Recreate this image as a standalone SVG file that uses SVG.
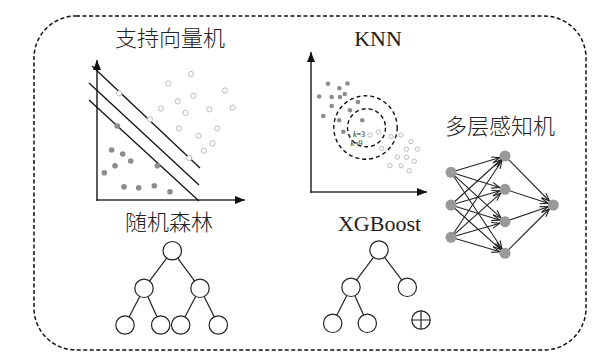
<svg xmlns="http://www.w3.org/2000/svg" width="612" height="362" viewBox="0 0 612 362">
<style>
.cjk{font-family:"Noto Sans CJK SC","Noto Sans",sans-serif;font-size:22px;font-weight:300;fill:#222;text-anchor:middle}
.ser{font-family:"Liberation Serif",serif;font-size:22px;fill:#222;text-anchor:middle}
.kl{font-family:"Liberation Serif",serif;font-size:8px;fill:#222}
.fd{fill:#8c8c8c}
.hd{fill:#fff;stroke:#b4b4b4;stroke-width:0.9}
.ax{stroke:#333;stroke-width:1.6;fill:none}
.tn{fill:#fff;stroke:#222;stroke-width:1.2}
.te{stroke:#222;stroke-width:1.2}
.nn{fill:#999}
.ar{stroke:#222;stroke-width:1.1;fill:none}
</style>
<defs>
<marker id="ah" markerUnits="userSpaceOnUse" markerWidth="12" markerHeight="10" refX="10" refY="4" orient="auto">
<path d="M0,0 L10,4 L0,8 z" fill="#111"/>
</marker>
<marker id="va" markerUnits="userSpaceOnUse" markerWidth="20" markerHeight="10" refX="14" refY="3.5" orient="auto">
<path d="M0.5,0.5 L8.5,3.5 L0.5,6.5" fill="none" stroke="#222" stroke-width="1.1"/>
</marker>
</defs>
<rect x="34" y="16" width="552" height="334" rx="42" ry="42" fill="none" stroke="#111" stroke-width="1.5" stroke-dasharray="4 2.5"/>

<g id="svm">
<text class="cjk" x="170" y="46">支持向量机</text>
<line class="ax" x1="97" y1="201" x2="97" y2="60" stroke="#555" marker-end="url(#ah)"/>
<line class="ax" x1="96" y1="200" x2="245" y2="200" stroke="#555" marker-end="url(#ah)"/>
<line x1="92" y1="66" x2="200" y2="168" stroke="#111" stroke-width="1.3"/>
<line x1="89" y1="83" x2="199" y2="185" stroke="#111" stroke-width="1.3"/>
<line x1="89" y1="100" x2="199" y2="201" stroke="#111" stroke-width="1.3"/>
<g class="hd">
<circle cx="191" cy="74" r="2.6"/><circle cx="168.3" cy="83.5" r="2.6"/><circle cx="119" cy="93.3" r="2.6"/><circle cx="193.3" cy="95.7" r="2.6"/><circle cx="225" cy="90.5" r="2.6"/><circle cx="177.7" cy="101.3" r="2.6"/><circle cx="161" cy="108.5" r="2.6"/><circle cx="185.5" cy="113" r="2.6"/><circle cx="209.3" cy="109.3" r="2.6"/><circle cx="232.7" cy="107.7" r="2.6"/><circle cx="150" cy="119.3" r="2.6"/><circle cx="179" cy="128.5" r="2.6"/><circle cx="217.2" cy="128.5" r="2.6"/><circle cx="198.5" cy="135.7" r="2.6"/><circle cx="212.5" cy="143.2" r="2.6"/><circle cx="203.8" cy="150.7" r="2.6"/><circle cx="189.2" cy="158" r="2.6"/>
</g>
<g class="fd">
<circle cx="117.3" cy="126" r="2.8"/><circle cx="111.7" cy="150" r="2.8"/><circle cx="122.7" cy="154" r="2.8"/><circle cx="130.7" cy="161" r="2.8"/><circle cx="115" cy="165.7" r="2.8"/><circle cx="104.3" cy="172.7" r="2.8"/><circle cx="157.3" cy="165.7" r="2.8"/><circle cx="124" cy="186.7" r="2.8"/><circle cx="138.7" cy="187.7" r="2.8"/><circle cx="154.3" cy="185.7" r="2.8"/><circle cx="170" cy="191.7" r="2.8"/>
</g>
</g>

<g id="knn">
<text class="ser" x="378" y="46">KNN</text>
<line class="ax" x1="311" y1="193" x2="311" y2="52" stroke="#111" marker-end="url(#ah)"/>
<line class="ax" x1="310" y1="192" x2="427" y2="192" stroke="#111" marker-end="url(#ah)"/>
<g class="fd">
<circle cx="328" cy="83.7" r="2.3"/><circle cx="347.5" cy="83.5" r="2.3"/><circle cx="339.3" cy="88.3" r="2.3"/><circle cx="319.2" cy="96.5" r="2.3"/><circle cx="331.7" cy="97" r="2.3"/><circle cx="340" cy="97" r="2.3"/><circle cx="344.8" cy="94" r="2.3"/><circle cx="331.7" cy="106" r="2.3"/><circle cx="358" cy="102" r="2.3"/><circle cx="350" cy="110.3" r="2.3"/><circle cx="323.3" cy="116" r="2.3"/><circle cx="339.2" cy="120.3" r="2.3"/><circle cx="362.2" cy="120.3" r="2.3"/><circle cx="343.3" cy="131.7" r="2.3"/>
</g>
<g class="hd">
<circle cx="370" cy="135" r="2.2"/><circle cx="378.3" cy="132" r="2.2"/><circle cx="391" cy="136.5" r="2.2"/><circle cx="401" cy="135" r="2.2"/><circle cx="411" cy="141.5" r="2.2"/><circle cx="381.7" cy="148.5" r="2.2"/><circle cx="406.3" cy="149.2" r="2.2"/><circle cx="417.3" cy="149.2" r="2.2"/><circle cx="397.3" cy="157" r="2.2"/><circle cx="406.5" cy="157.2" r="2.2"/><circle cx="414.2" cy="161.2" r="2.2"/><circle cx="390" cy="165.7" r="2.2"/><circle cx="401" cy="165.7" r="2.2"/><circle cx="409.3" cy="170.7" r="2.2"/>
</g>
<circle cx="365.5" cy="127.5" r="31.7" fill="none" stroke="#111" stroke-width="1.4" stroke-dasharray="4 3"/>
<circle cx="366.5" cy="127.8" r="19" fill="none" stroke="#111" stroke-width="1.4" stroke-dasharray="4 3"/>
<text class="kl" x="353" y="136.5"><tspan font-style="italic">k</tspan>=3</text>
<text class="kl" x="350.5" y="145.5"><tspan font-style="italic">k</tspan>=9</text>
</g>

<g id="mlp">
<text class="cjk" x="500" y="134">多层感知机</text>
<g id="connectors">
<line class="ar" x1="451" y1="172.3" x2="505" y2="156" marker-end="url(#va)"/>
<line class="ar" x1="451" y1="172.3" x2="505" y2="189.3" marker-end="url(#va)"/>
<line class="ar" x1="451" y1="172.3" x2="505" y2="221.7" marker-end="url(#va)"/>
<line class="ar" x1="451" y1="172.3" x2="505" y2="253.3" marker-end="url(#va)"/>
<line class="ar" x1="451" y1="205" x2="505" y2="156" marker-end="url(#va)"/>
<line class="ar" x1="451" y1="205" x2="505" y2="189.3" marker-end="url(#va)"/>
<line class="ar" x1="451" y1="205" x2="505" y2="221.7" marker-end="url(#va)"/>
<line class="ar" x1="451" y1="205" x2="505" y2="253.3" marker-end="url(#va)"/>
<line class="ar" x1="451" y1="237.3" x2="505" y2="156" marker-end="url(#va)"/>
<line class="ar" x1="451" y1="237.3" x2="505" y2="189.3" marker-end="url(#va)"/>
<line class="ar" x1="451" y1="237.3" x2="505" y2="221.7" marker-end="url(#va)"/>
<line class="ar" x1="451" y1="237.3" x2="505" y2="253.3" marker-end="url(#va)"/>
<line class="ar" x1="505" y1="156" x2="553.3" y2="205" marker-end="url(#va)"/>
<line class="ar" x1="505" y1="189.3" x2="553.3" y2="205" marker-end="url(#va)"/>
<line class="ar" x1="505" y1="221.7" x2="553.3" y2="205" marker-end="url(#va)"/>
<line class="ar" x1="505" y1="253.3" x2="553.3" y2="205" marker-end="url(#va)"/>
</g>
<g id="in1"><circle class="nn" cx="451" cy="172.3" r="5.5"/></g>
<g id="in2"><circle class="nn" cx="451" cy="205" r="5.5"/></g>
<g id="in3"><circle class="nn" cx="451" cy="237.3" r="5.5"/></g>
<g id="h1"><circle class="nn" cx="505" cy="156" r="5.5"/></g>
<g id="h2"><circle class="nn" cx="505" cy="189.3" r="5.5"/></g>
<g id="h3"><circle class="nn" cx="505" cy="221.7" r="5.5"/></g>
<g id="h4"><circle class="nn" cx="505" cy="253.3" r="5.5"/></g>
<g id="out"><circle class="nn" cx="553.3" cy="205" r="5.5"/></g>
</g>

<g id="rf">
<text class="cjk" x="169" y="230">随机森林</text>
<g class="te">
<line x1="172.3" y1="250.7" x2="144" y2="288.3"/><line x1="172.3" y1="250.7" x2="200" y2="288.3"/>
<line x1="144" y1="288.3" x2="125" y2="325"/><line x1="144" y1="288.3" x2="160.7" y2="325"/>
<line x1="200" y1="288.3" x2="180.7" y2="325"/><line x1="200" y1="288.3" x2="218.3" y2="325"/>
</g>
<g class="tn">
<circle cx="172.3" cy="250.7" r="9.2"/><circle cx="144" cy="288.3" r="9.2"/><circle cx="200" cy="288.3" r="9.2"/>
<circle cx="125" cy="325" r="9.2"/><circle cx="160.7" cy="325" r="9.2"/><circle cx="180.7" cy="325" r="9.2"/><circle cx="218.3" cy="325" r="9.2"/>
</g>
</g>

<g id="xgb">
<text class="ser" x="379.5" y="230.5">XGBoost</text>
<g class="te">
<line x1="379" y1="250" x2="351" y2="287.3"/><line x1="379" y1="250" x2="407.3" y2="287.3"/>
<line x1="351" y1="287.3" x2="332.7" y2="323.3"/><line x1="351" y1="287.3" x2="367.3" y2="323.3"/>
</g>
<g class="tn">
<circle cx="379" cy="250" r="9.2"/><circle cx="351" cy="287.3" r="9.2"/><circle cx="407.3" cy="287.3" r="9.2"/>
<circle cx="332.7" cy="323.3" r="9.2"/><circle cx="367.3" cy="323.3" r="9.2"/>
<circle cx="421" cy="320" r="9.2"/>
</g>
<path d="M411.8,320 H430.2 M421,310.8 V329.2" class="te" fill="none"/>
</g>
</svg>
